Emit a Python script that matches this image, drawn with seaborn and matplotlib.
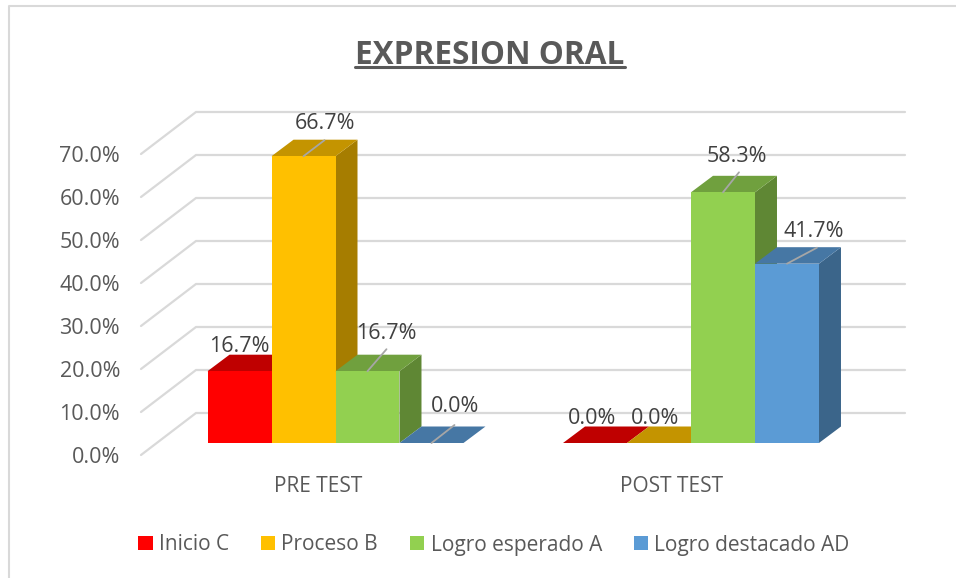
import numpy as np
import pandas as pd

import matplotlib
matplotlib.use("Agg")
import matplotlib.pyplot as plt
from matplotlib.lines import Line2D
from matplotlib.patches import Polygon
from matplotlib.colors import to_rgb
import seaborn as sns

####################################################################

groups = ["PRE TEST", "POST TEST"]
levels = ["Inicio C", "Proceso B", "Logro esperado A", "Logro destacado AD"]
inicio = [16.7, 0.0]
proceso = [66.7, 0.0]
logro_esperado = [16.7, 58.3]
logro_destacado = [0.0, 41.7]
y_ticks = [0, 10, 20, 30, 40, 50, 60, 70]

colors = ["#FF0000", "#FFC000", "#92D050", "#5B9BD5"]
text_color = "#595959"
label_color = "#404040"
grid_color = "#D9D9D9"

W, H = 956, 578
# pixels per unit on both axes, and the pixel where PRE TEST / y=0 sit
PX_X = 355.5
PX_Y = 4.3
X0, Y0 = 335.5, 443
LEFT, RIGHT, TOP, BOTTOM = 141, 905, 100, 455

# px offset from each bar's top centre to its label, pre test then post test
label_offsets = [[(0, 25), (21, 33), (19, 38), (24, 36)],
                 [(-3, 25), (-4, 25), (14, 36), (27, 32)]]
leader_ends = [[None, (21, 16), (19, 22), (23, 18)],
               [None, None, (16, 20), (30, 16)]]


def shade(color, factor):
    return tuple(c * factor for c in to_rgb(color))


def add_depth(ax, bar, color, zorder):
    """
    Draws the side and top faces that give a bar its 3D look
    """
    x, w, h = bar.get_x(), bar.get_width(), bar.get_height()
    dx, dy = 22 / PX_X, 16.5 / PX_Y
    top = [(x, h), (x + w, h), (x + w + dx, h + dy), (x + dx, h + dy)]
    side = [(x + w, 0), (x + w + dx, dy), (x + w + dx, h + dy), (x + w, h)]
    if h > 0:
        ax.add_patch(Polygon(side, fc=shade(color, 0.65), ec="none", zorder=zorder))
    top_factor = 0.75 if color == "#FF0000" else 0.77
    ax.add_patch(Polygon(top, fc=shade(color, top_factor), ec="none", zorder=zorder))
    bar.set_zorder(zorder + 0.5)


sns.set_theme(style="white")
plt.rcParams["font.family"] = ["Open Sans", "DejaVu Sans"]

df = pd.DataFrame({
    "group": groups * 4,
    "level": np.repeat(levels, 2),
    "value": inicio + proceso + logro_esperado + logro_destacado,
})

fig = plt.figure(figsize=(W / 100, H / 100), dpi=100)
ax = fig.add_axes([LEFT / W, 1 - BOTTOM / H, (RIGHT - LEFT) / W, (BOTTOM - TOP) / H])

sns.barplot(data=df, x="group", y="value", hue="level", hue_order=levels,
            order=groups, palette=colors, width=0.72, gap=0, saturation=1,
            linewidth=0, ax=ax, zorder=3)

ax.set_xlim((LEFT - X0) / PX_X, (RIGHT - X0) / PX_X)
ax.set_ylim((Y0 - BOTTOM) / PX_Y, (Y0 - TOP) / PX_Y)

# walls: back gridlines plus the slanted ones on the left wall
back_x = (196 - X0) / PX_X
front_x = (LEFT - X0) / PX_X
back_dy = (Y0 - 413) / PX_Y
front_dy = (Y0 - 455) / PX_Y
for t in y_ticks:
    ax.plot([front_x, back_x, (RIGHT - X0) / PX_X],
            [t + front_dy, t + back_dy, t + back_dy],
            color=grid_color, lw=1.6, zorder=1, solid_joinstyle="miter", clip_on=False)

# seaborn also leaves empty legend rectangles in ax.patches
bars = sorted([p for p in ax.patches if p.get_width() > 0], key=lambda b: b.get_x())
n = len(levels)
for i, bar in enumerate(bars):
    add_depth(ax, bar, colors[i % n], 3 + i)

values = [inicio, proceso, logro_esperado, logro_destacado]
for g in range(len(groups)):
    for s in range(n):
        bar = bars[g * n + s]
        xy = (bar.get_x() + bar.get_width() / 2, bar.get_height())
        ax.annotate(f"{values[s][g]:.1f}%", xy=xy, xytext=label_offsets[g][s],
                    textcoords="offset pixels", ha="center", va="center",
                    fontsize=15.5, color=label_color, zorder=30)
        if leader_ends[g][s] is not None:
            ax.annotate("", xy=xy, xytext=leader_ends[g][s], textcoords="offset pixels",
                        arrowprops=dict(arrowstyle="-", color="#A6A6A6", lw=1.3,
                                        shrinkA=0, shrinkB=0), zorder=29)

ax.set_yticks([t + front_dy for t in y_ticks], [f"{t:.1f}%" for t in y_ticks])
ax.set_xticks([-17 / PX_X, 1 - 19 / PX_X], groups)
ax.tick_params(axis="y", length=0, pad=15, labelsize=15.5, labelcolor=text_color)
ax.tick_params(axis="x", length=0, pad=15, labelsize=15, labelcolor=text_color)
ax.set_xlabel("")
ax.set_ylabel("")
sns.despine(ax=ax, left=True, bottom=True)
ax.patch.set_alpha(0)

handles, labels = ax.get_legend_handles_labels()
ax.legend(handles, labels, ncol=4, frameon=False, loc="center",
          bbox_to_anchor=(494 / W, 1 - 545 / H), bbox_transform=fig.transFigure,
          fontsize=15, labelcolor=text_color, handlelength=0.68, handleheight=0.68,
          handletextpad=0.3, columnspacing=1.54, borderaxespad=0)

title = fig.text(490 / W, 1 - 55 / H, "EXPRESION ORAL", ha="center", va="center",
                 fontsize=22.7, fontweight="bold", color=text_color)
box = title.get_window_extent(fig.canvas.get_renderer())
fig.add_artist(Line2D([box.x0 / W, box.x1 / W], [1 - 67 / H, 1 - 67 / H],
                      color=text_color, lw=2.2))

# chart frame, open on the right and bottom
fig.add_artist(Line2D([9 / W, 9 / W, 1], [0, 1 - 6 / H, 1 - 6 / H], color=grid_color, lw=1.5))

fig.savefig("out.png", dpi=100)
